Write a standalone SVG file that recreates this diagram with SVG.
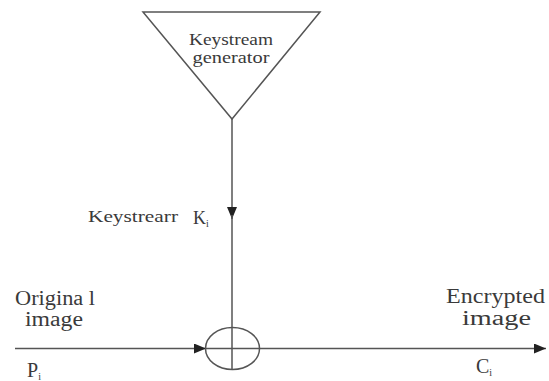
<svg xmlns="http://www.w3.org/2000/svg" width="549" height="381" viewBox="0 0 549 381">
<defs>
<style>
.ln{stroke:#555;stroke-width:1.5;fill:none}
.t{font-family:"Liberation Serif","Times New Roman",serif;fill:#3a3a3a}
</style>
<marker id="ah" markerWidth="12" markerHeight="10" refX="12" refY="5" orient="auto" markerUnits="userSpaceOnUse">
<path d="M0,0 L12,5 L0,10 Z" fill="#222"/>
</marker>
</defs>
<rect width="549" height="381" fill="#fff"/>
<g id="generator">
<path class="ln" d="M143,12 L320,12 L232,119 Z"/>
<text class="t" x="231" y="45" font-size="17" text-anchor="middle" textLength="84" lengthAdjust="spacingAndGlyphs">Keystream</text>
<text class="t" x="231" y="63" font-size="17" text-anchor="middle" textLength="77" lengthAdjust="spacingAndGlyphs">generator</text>
</g>
<g id="xor">
<ellipse class="ln" cx="232.5" cy="348.5" rx="27" ry="21"/>
</g>
<g id="connectors">
<line class="ln" x1="232" y1="119" x2="232" y2="219" marker-end="url(#ah)"/>
<line class="ln" x1="232" y1="215" x2="232" y2="370"/>
<line class="ln" x1="15" y1="348.5" x2="206" y2="348.5" marker-end="url(#ah)"/>
<line class="ln" x1="205" y1="348.5" x2="260" y2="348.5"/>
<line class="ln" x1="259" y1="348.5" x2="546" y2="348.5" marker-end="url(#ah)"/>
</g>
<g id="labels">
<text class="t" x="88" y="222" font-size="16" textLength="90" lengthAdjust="spacingAndGlyphs">Keystrearr</text>
<text class="t" x="193" y="224" font-size="18">K<tspan font-size="10" dy="3">i</tspan></text>
<text class="t" x="15" y="305" font-size="20" textLength="80" lengthAdjust="spacingAndGlyphs">Origina l</text>
<text class="t" x="25" y="326" font-size="20" textLength="58" lengthAdjust="spacingAndGlyphs">image</text>
<text class="t" x="27" y="377" font-size="20">P<tspan font-size="10" dy="3">i</tspan></text>
<text class="t" x="446" y="303" font-size="20" textLength="99" lengthAdjust="spacingAndGlyphs">Encrypted</text>
<text class="t" x="462" y="325" font-size="20" textLength="69" lengthAdjust="spacingAndGlyphs">image</text>
<text class="t" x="476" y="373" font-size="20">C<tspan font-size="10" dy="3">i</tspan></text>
</g>
</svg>
